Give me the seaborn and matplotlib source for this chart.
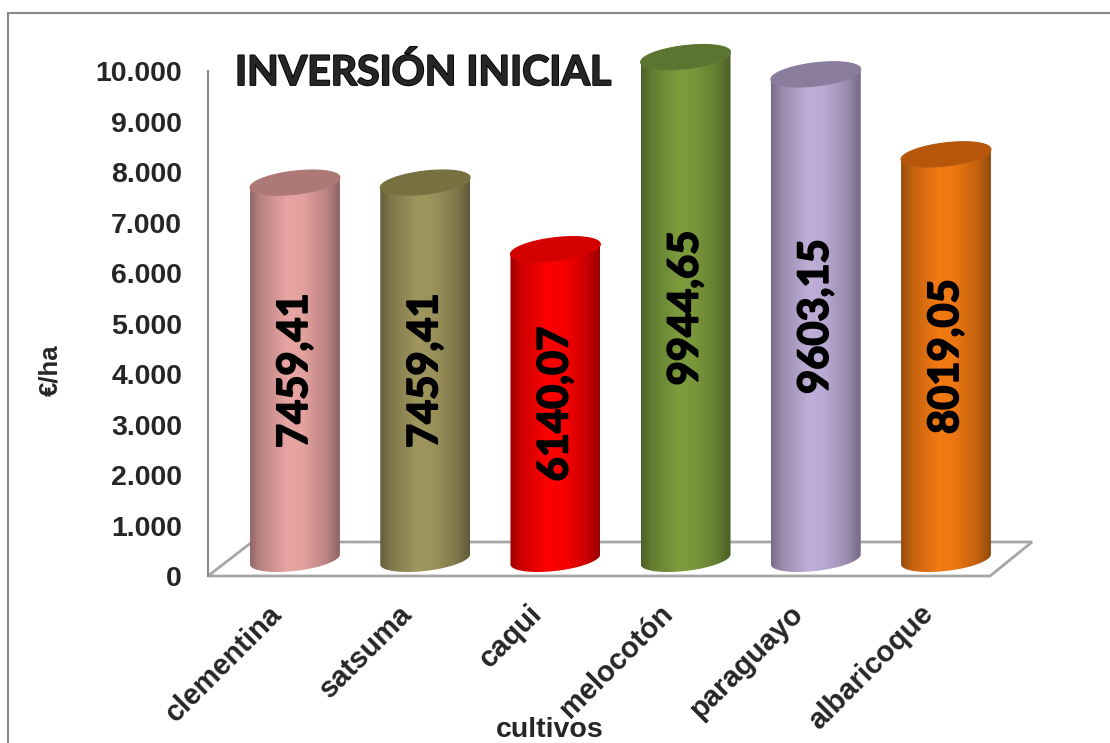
import numpy as np
import pandas as pd
import matplotlib
matplotlib.use("Agg")
import matplotlib.pyplot as plt
import matplotlib.patheffects as pe
import seaborn as sns
from matplotlib.patches import Polygon, Rectangle
from matplotlib.colors import to_rgb
from matplotlib.ticker import FuncFormatter
from matplotlib.transforms import ScaledTranslation

# --- data -------------------------------------------------------------
cultivos = ["clementina", "satsuma", "caqui", "melocotón", "paraguayo", "albaricoque"]
inversion = [7459.41, 7459.41, 6140.07, 9944.65, 9603.15, 8019.05]
color_cuerpo = ["#e9a5a3", "#a0965e", "#ff0000", "#7c9c3d", "#bfaed8", "#f47a12"]
color_tapa = ["#ad7876", "#777040", "#d40000", "#5b7530", "#8a7c9c", "#b5560a"]
yticks = list(range(0, 10001, 1000))
titulo = "INVERSIÓN INICIAL"
eje_y = "€/ha"
eje_x = "cultivos"

sns.set_theme(style="white")
plt.rcParams["font.family"] = ["Liberation Sans", "DejaVu Sans"]

fig = plt.figure(figsize=(11.1, 7.43), dpi=100)
ax = fig.add_axes([0.18739, 0.22476, 0.74955, 0.67968])

df = pd.DataFrame({"cultivo": cultivos, "inversion": inversion})
sns.barplot(data=df, x="cultivo", y="inversion", width=0.69, color="white",
            errorbar=None, ax=ax)

# cylinder geometry (data units)
prof = 330.0      # lift of the cylinders above the front edge of the floor
semi_b = 230.0    # vertical semi-axis of the end ellipses
shear = 287.0     # tilt of the ellipses (y units per x unit)

xs_perfil = [0.0, 0.12, 0.42, 0.60, 0.85, 1.0]
fs_perfil = [0.62, 0.80, 1.00, 0.97, 0.80, 0.60]
u = np.linspace(0, 1, 256)
fac = np.interp(u, xs_perfil, fs_perfil)

grueso = [pe.withStroke(linewidth=1.3, foreground="black")]

for p, v, cb, ct in zip(list(ax.patches), inversion, color_cuerpo, color_tapa):
    cx = p.get_x() + p.get_width() / 2
    a = p.get_width() / 2
    h = p.get_height()
    p.set_visible(False)
    y0 = prof
    y1 = prof + h

    t1 = np.linspace(np.pi, 2 * np.pi, 80)
    xt = cx + a * np.cos(t1)
    yt = y1 + semi_b * np.sin(t1) + shear * (xt - cx)
    t2 = np.linspace(2 * np.pi, np.pi, 80)
    xb = cx + a * np.cos(t2)
    yb = y0 + semi_b * np.sin(t2) + shear * (xb - cx)
    verts = np.vstack([np.column_stack([xt, yt]), np.column_stack([xb, yb])])
    body = Polygon(verts, closed=True, facecolor="none", edgecolor="none",
                   zorder=2, clip_on=False)
    ax.add_patch(body)

    base = np.array(to_rgb(cb))
    grad = np.clip(base[None, :] * fac[:, None], 0, 1)[None, :, :]
    im = ax.imshow(grad, extent=[cx - a, cx + a, y0 - semi_b - shear * a - 50,
                                 y1 + semi_b + shear * a + 50],
                   aspect="auto", interpolation="bilinear", zorder=2)
    im.set_clip_path(body)
    im.set_clip_box(fig.bbox)

    tt = np.linspace(0, 2 * np.pi, 160)
    xe = cx + a * np.cos(tt)
    ye = y1 + semi_b * np.sin(tt) + shear * (xe - cx)
    tapa = Polygon(np.column_stack([xe, ye]), closed=True, facecolor=ct,
                   edgecolor=ct, lw=0.8, zorder=3, clip_on=False)
    ax.add_patch(tapa)

    ax.text(cx, prof + h / 2, f"{v:.2f}".replace(".", ","), rotation=90,
            ha="center", va="center", fontsize=30, fontweight="bold",
            family=["Lato", "DejaVu Sans"], color="black", zorder=4,
            path_effects=grueso)

# floor of the plot area
suelo = Polygon([(-0.668, 0), (-0.330, 673), (5.661, 673), (5.338, 0)],
                closed=True, fill=False, edgecolor="#a6a6a6", lw=2,
                zorder=1, clip_on=False)
ax.add_patch(suelo)

ax.set_xlim(-0.668, 5.722)
ax.set_ylim(0, 10000)

for s in ["top", "right", "bottom"]:
    ax.spines[s].set_visible(False)
ax.spines["left"].set_color("#8c8c8c")
ax.spines["left"].set_linewidth(1.5)

ax.set_yticks(yticks)
ax.yaxis.set_major_formatter(FuncFormatter(lambda val, _: f"{int(val):,}".replace(",", ".")))
ax.tick_params(axis="y", length=0, pad=18.7, labelsize=20.5)
plt.setp(ax.get_yticklabels(), fontweight="bold")

ax.set_xticks(range(len(cultivos)))
ax.set_xticklabels(cultivos, rotation=45, ha="right", rotation_mode="anchor",
                   fontsize=21, fontweight="bold")
ax.tick_params(axis="x", length=0, pad=17)
desplaza = ScaledTranslation(-0.27, 0, fig.dpi_scale_trans)
for lab in ax.get_xticklabels():
    lab.set_transform(lab.get_transform() + desplaza)

ax.set_ylabel(eje_y, fontsize=18.5, fontweight="bold", va="center")
ax.yaxis.set_label_coords(-0.19, 0.408)
ax.set_xlabel(eje_x, fontsize=20.5, fontweight="bold", va="baseline")
ax.xaxis.set_label_coords(0.411, -0.318)

fig.text(235 / 1110, 1 - 85 / 743, titulo, fontsize=29.5, fontweight="bold",
         family=["Lato", "DejaVu Sans"], va="baseline", ha="left",
         path_effects=grueso)

fig.add_artist(Rectangle((8 / 1110, -0.05), 1.2, 1 - 13 / 743 + 0.05,
                         transform=fig.transFigure, fill=False,
                         edgecolor="#8a8a8a", lw=1.5))

fig.savefig("out.png", dpi=100, facecolor="white")
